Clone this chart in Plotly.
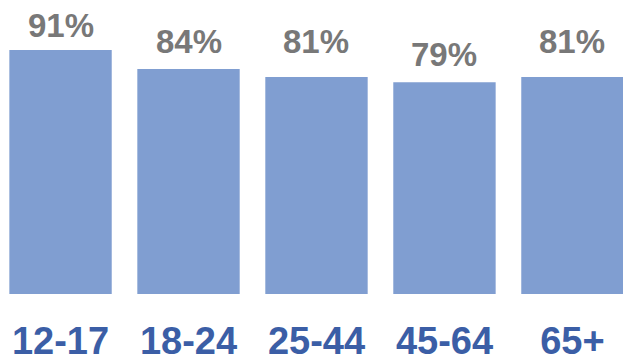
import plotly.graph_objects as go

categories = ["12-17", "18-24", "25-44", "45-64", "65+"]
values = [91, 84, 81, 79, 81]
value_labels = ["91%", "84%", "81%", "79%", "81%"]

# style: per-label vertical offsets (px) as in the reference
label_shift = [15, 18, 26, 18, 26]

fig = go.Figure()
fig.add_trace(go.Bar(
    x=categories, y=values,
    marker=dict(color="#809ED1", line=dict(width=0)),
    width=0.8,
    hoverinfo="skip",
))

for c, v, t, s in zip(categories, values, value_labels, label_shift):
    fig.add_annotation(x=c, y=v, text="<b>" + t + "</b>", showarrow=False, xref="x", yref="y",
                       yanchor="bottom", yshift=s - 11,
                       font=dict(family="Liberation Sans", size=33, color="#787878"))

fig.update_layout(
    width=623, height=362,
    margin=dict(l=0, r=0, t=0, b=68),
    paper_bgcolor="white", plot_bgcolor="white",
    showlegend=False,
    xaxis=dict(range=[-0.473, 4.395], showgrid=False, zeroline=False, showline=False,
               ticks="", tickfont=dict(family="Liberation Sans", size=38, color="#3B5EA6"),
               ticklabelstandoff=21, fixedrange=True),
    yaxis=dict(range=[0, 109.7], visible=False, fixedrange=True),
)
fig.update_xaxes(tickprefix="<b>", ticksuffix="</b>")
fig.write_html("out.html")
